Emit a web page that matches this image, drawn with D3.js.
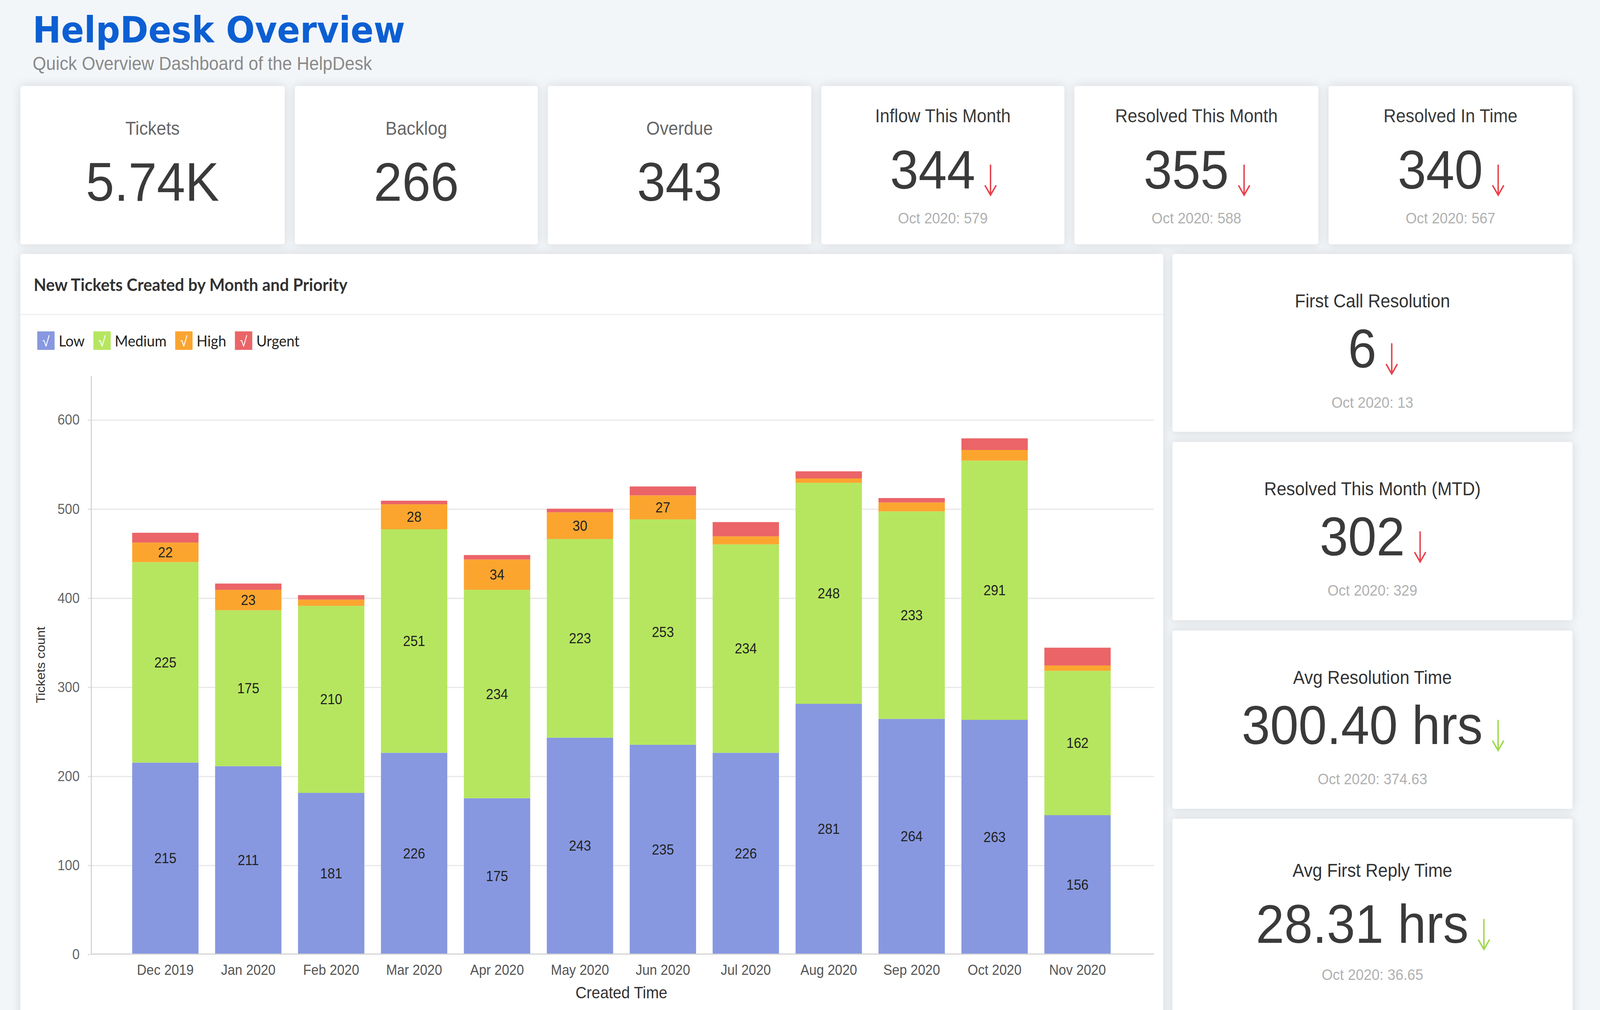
<!DOCTYPE html>
<html>
<head>
<meta charset="utf-8">
<script src="https://cdn.jsdelivr.net/npm/d3@7"></script>
<style>
  html, body { margin: 0; padding: 0; background: #f3f6f9; overflow: hidden; width: 100%; height: 100%; }
  svg { display: block; width: 100vw; height: 100vh; }
</style>
</head>
<body>
<script>

var months = ["Dec 2019", "Jan 2020", "Feb 2020", "Mar 2020", "Apr 2020", "May 2020",
              "Jun 2020", "Jul 2020", "Aug 2020", "Sep 2020", "Oct 2020", "Nov 2020"];
var lowCounts    = [215, 211, 181, 226, 175, 243, 235, 226, 281, 264, 263, 156];
var mediumCounts = [225, 175, 210, 251, 234, 223, 253, 234, 248, 233, 291, 162];
var highCounts   = [22, 23, 7, 28, 34, 30, 27, 9, 5, 10, 12, 6];
var urgentCounts = [11, 7, 5, 4, 5, 4, 10, 16, 8, 5, 13, 20];
var priorities = ["Low", "Medium", "High", "Urgent"];
var yTicks = [0, 100, 200, 300, 400, 500, 600];

var topTitles   = ["Tickets", "Backlog", "Overdue", "Inflow This Month", "Resolved This Month", "Resolved In Time"];
var topValues   = ["5.74K", "266", "343", "344", "355", "340"];
var topPrevious = [null, null, null, "Oct 2020: 579", "Oct 2020: 588", "Oct 2020: 567"];

var sideTitles   = ["First Call Resolution", "Resolved This Month (MTD)", "Avg Resolution Time", "Avg First Reply Time"];
var sideValues   = ["6", "302", "300.40 hrs", "28.31 hrs"];
var sidePrevious = ["Oct 2020: 13", "Oct 2020: 329", "Oct 2020: 374.63", "Oct 2020: 36.65"];
var sideTrend    = ["bad", "bad", "good", "good"];

var colors = {Low: "#8798e0", Medium: "#b6e65f", High: "#fba52f", Urgent: "#eb6468"};
var arrowColors = {bad: "#e8404b", good: "#9fd84c"};
var sans = "'Liberation Sans', Arial, sans-serif";

// everything is laid out on a 1568 x 926.6 grid and stretched to the window
var svg = d3.select("body").append("svg")
    .attr("viewBox", "0 0 1568 926.6")
    .attr("preserveAspectRatio", "none");

var defs = svg.append("defs");
defs.append("filter")
    .attr("id", "shadow")
    .attr("x", "-10%").attr("y", "-10%").attr("width", "120%").attr("height", "120%")
  .append("feDropShadow")
    .attr("dx", 0).attr("dy", 0)
    .attr("stdDeviation", 4.5)
    .attr("flood-color", "#000")
    .attr("flood-opacity", 0.13);

// header
svg.append("text")
    .attr("x", 32).attr("y", 39)
    .attr("font-family", "'DejaVu Sans', Verdana, sans-serif")
    .attr("font-weight", "bold")
    .attr("font-size", 33.3)
    .attr("fill", "#0c5fd2")
    .text("HelpDesk Overview");

svg.append("text")
    .attr("x", 32).attr("y", 64)
    .attr("font-family", sans)
    .attr("font-size", 17)
    .attr("fill", "#8a8a8a")
    .text("Quick Overview Dashboard of the HelpDesk");

function card(x, y, w, h) {
    var g = svg.append("g").attr("transform", "translate(" + x + "," + y + ")");
    g.append("rect")
        .attr("width", w).attr("height", h)
        .attr("rx", 2)
        .attr("fill", "#fff")
        .attr("filter", "url(#shadow)");
    return g;
}

function arrow(g, x, baseline, trend) {
    var top = baseline - 22, bottom = baseline + 6;
    g.append("path")
        .attr("d", "M" + x + "," + top + "V" + bottom +
                   "M" + (x - 5.5) + "," + (bottom - 9) + "L" + x + "," + bottom + "L" + (x + 5.5) + "," + (bottom - 9))
        .attr("fill", "none")
        .attr("stroke", arrowColors[trend])
        .attr("stroke-width", 1.4);
}

function valueWithArrow(g, cx, baseline, value, trend) {
    var t = g.append("text")
        .attr("y", baseline)
        .attr("font-family", sans)
        .attr("font-size", 50)
        .attr("fill", "#3a3a3a")
        .text(value);
    var w = t.node().getComputedTextLength();
    var start = cx - (w + 20) / 2;
    t.attr("x", start);
    arrow(g, start + w + 15, baseline, trend);
}

// top KPI row
var topX = [20, 289, 537, 805, 1053, 1302];
var topW = [259, 238, 258, 238, 239, 239];

topTitles.forEach(function(title, i) {
    var g = card(topX[i], 79, topW[i], 145);
    var cx = topW[i] / 2;
    if (topPrevious[i] === null) {
        g.append("text")
            .attr("x", cx).attr("y", 44.5)
            .attr("text-anchor", "middle")
            .attr("font-family", sans).attr("font-size", 17)
            .attr("fill", "#666")
            .text(title);
        g.append("text")
            .attr("x", cx).attr("y", 105)
            .attr("text-anchor", "middle")
            .attr("font-family", sans).attr("font-size", 50)
            .attr("fill", "#3a3a3a")
            .text(topValues[i]);
    } else {
        g.append("text")
            .attr("x", cx).attr("y", 33)
            .attr("text-anchor", "middle")
            .attr("font-family", sans).attr("font-size", 17)
            .attr("fill", "#3a3a3a")
            .text(title);
        valueWithArrow(g, cx, 94, topValues[i], "bad");
        g.append("text")
            .attr("x", cx).attr("y", 126)
            .attr("text-anchor", "middle")
            .attr("font-family", sans).attr("font-size", 14)
            .attr("fill", "#b0b0b0")
            .text(topPrevious[i]);
    }
});

// right column KPIs
var sideY = [233, 405.5, 578.5, 751];
var sideH = [163, 163.5, 163.5, 200];
var sideOffsets = [[43, 104, 136], [43, 104, 136], [43, 104, 136], [47.5, 114, 143]];

sideTitles.forEach(function(title, i) {
    var g = card(1149, sideY[i], 392, sideH[i]);
    var cx = 196;
    var o = sideOffsets[i];
    g.append("text")
        .attr("x", cx).attr("y", o[0] + 6)
        .attr("text-anchor", "middle")
        .attr("font-family", sans).attr("font-size", 17)
        .attr("fill", "#333")
        .text(title);
    valueWithArrow(g, cx, o[1], sideValues[i], sideTrend[i]);
    g.append("text")
        .attr("x", cx).attr("y", o[2] + 5)
        .attr("text-anchor", "middle")
        .attr("font-family", sans).attr("font-size", 14)
        .attr("fill", "#b0b0b0")
        .text(sidePrevious[i]);
});

// chart card
var chartCard = card(20, 233, 1120, 720);

svg.append("text")
    .attr("x", 33).attr("y", 267)
    .attr("font-family", "Lato, sans-serif")
    .attr("font-weight", "bold")
    .attr("font-size", 16)
    .attr("fill", "#333")
    .text("New Tickets Created by Month and Priority");

svg.append("line")
    .attr("x1", 20).attr("x2", 1140)
    .attr("y1", 288.5).attr("y2", 288.5)
    .attr("stroke", "#eceef0");

// legend
var legend = svg.append("g").attr("transform", "translate(36.5,304)");
var lx = 0;
priorities.forEach(function(p) {
    var item = legend.append("g").attr("transform", "translate(" + lx + ",0)");
    item.append("rect")
        .attr("width", 17).attr("height", 17)
        .attr("fill", colors[p]);
    item.append("text")
        .attr("x", 8.5).attr("y", 14)
        .attr("text-anchor", "middle")
        .attr("font-family", sans).attr("font-size", 13)
        .attr("fill", "#fff")
        .text("\u221A");
    var t = item.append("text")
        .attr("x", 21).attr("y", 14)
        .attr("font-family", "Lato, sans-serif")
        .attr("font-size", 14)
        .attr("fill", "#222")
        .text(p);
    lx += 21 + t.node().getComputedTextLength() + 8.5;
});

// stacked bars
var rows = months.map(function(m, i) {
    return {month: m, Low: lowCounts[i], Medium: mediumCounts[i], High: highCounts[i], Urgent: urgentCounts[i]};
});

var x = d3.scaleBand()
    .domain(months)
    .range([121.4, 1096.6])
    .paddingInner(0.2)
    .paddingOuter(0.1);

var y = d3.scaleLinear()
    .domain([0, 600])
    .range([875.3, 385]);

var plotLeft = 89, plotRight = 1131;

svg.append("g")
    .attr("transform", "translate(" + plotLeft + ",0)")
    .call(d3.axisLeft(y).tickValues(yTicks.slice(1)).tickSize(-(plotRight - plotLeft)).tickFormat(""))
    .call(function(g) { g.select(".domain").remove(); })
    .selectAll("line")
    .attr("stroke", "#e6e6e6");

var yAxis = svg.append("g")
    .attr("transform", "translate(" + plotLeft + ",0)")
    .call(d3.axisLeft(y).tickValues(yTicks).tickSize(3).tickPadding(8));
yAxis.select(".domain").remove();
yAxis.selectAll("line").attr("stroke", "#ddd");
yAxis.selectAll("text")
    .attr("font-family", sans)
    .attr("font-size", 13)
    .attr("fill", "#666");

svg.append("line")
    .attr("x1", plotLeft + 0.5).attr("x2", plotLeft + 0.5)
    .attr("y1", 345).attr("y2", y(0))
    .attr("stroke", "#d0d0d0");

var stack = d3.stack().keys(priorities)(rows);

var layers = svg.append("g").selectAll("g")
    .data(stack)
    .join("g")
    .attr("fill", function(d) { return colors[d.key]; });

layers.selectAll("rect")
    .data(function(d) { return d; })
    .join("rect")
    .attr("x", function(d) { return x(d.data.month); })
    .attr("width", x.bandwidth())
    .attr("y", function(d) { return y(d[1]); })
    .attr("height", function(d) { return y(d[0]) - y(d[1]); });

layers.filter(function(d) { return d.key !== "Urgent"; })
    .selectAll("text")
    .data(function(d) { return d.map(function(s) { return {s: s, key: d.key}; }); })
    .join("text")
    .filter(function(d) { return d.s[1] - d.s[0] >= 20; })
    .attr("x", function(d) { return x(d.s.data.month) + x.bandwidth() / 2; })
    .attr("y", function(d) { return y((d.s[0] + d.s[1]) / 2); })
    .attr("dy", "0.35em")
    .attr("text-anchor", "middle")
    .attr("font-family", sans)
    .attr("font-size", 13)
    .attr("fill", "#222")
    .text(function(d) { return d.s[1] - d.s[0]; });

var xAxis = svg.append("g")
    .attr("transform", "translate(0," + y(0) + ")")
    .call(d3.axisBottom(x).tickSize(0).tickPadding(10));
xAxis.select(".domain").remove();
xAxis.selectAll("text")
    .attr("font-family", sans)
    .attr("font-size", 13)
    .attr("fill", "#555");

svg.append("line")
    .attr("x1", plotLeft).attr("x2", plotRight)
    .attr("y1", y(0)).attr("y2", y(0))
    .attr("stroke", "#d0d0d0");

svg.append("text")
    .attr("x", 609).attr("y", 916)
    .attr("text-anchor", "middle")
    .attr("font-family", sans)
    .attr("font-size", 15)
    .attr("fill", "#333")
    .text("Created Time");

svg.append("text")
    .attr("transform", "translate(44,610) rotate(-90)")
    .attr("text-anchor", "middle")
    .attr("font-family", sans)
    .attr("font-size", 12)
    .attr("fill", "#333")
    .text("Tickets count");

</script>
</body>
</html>
